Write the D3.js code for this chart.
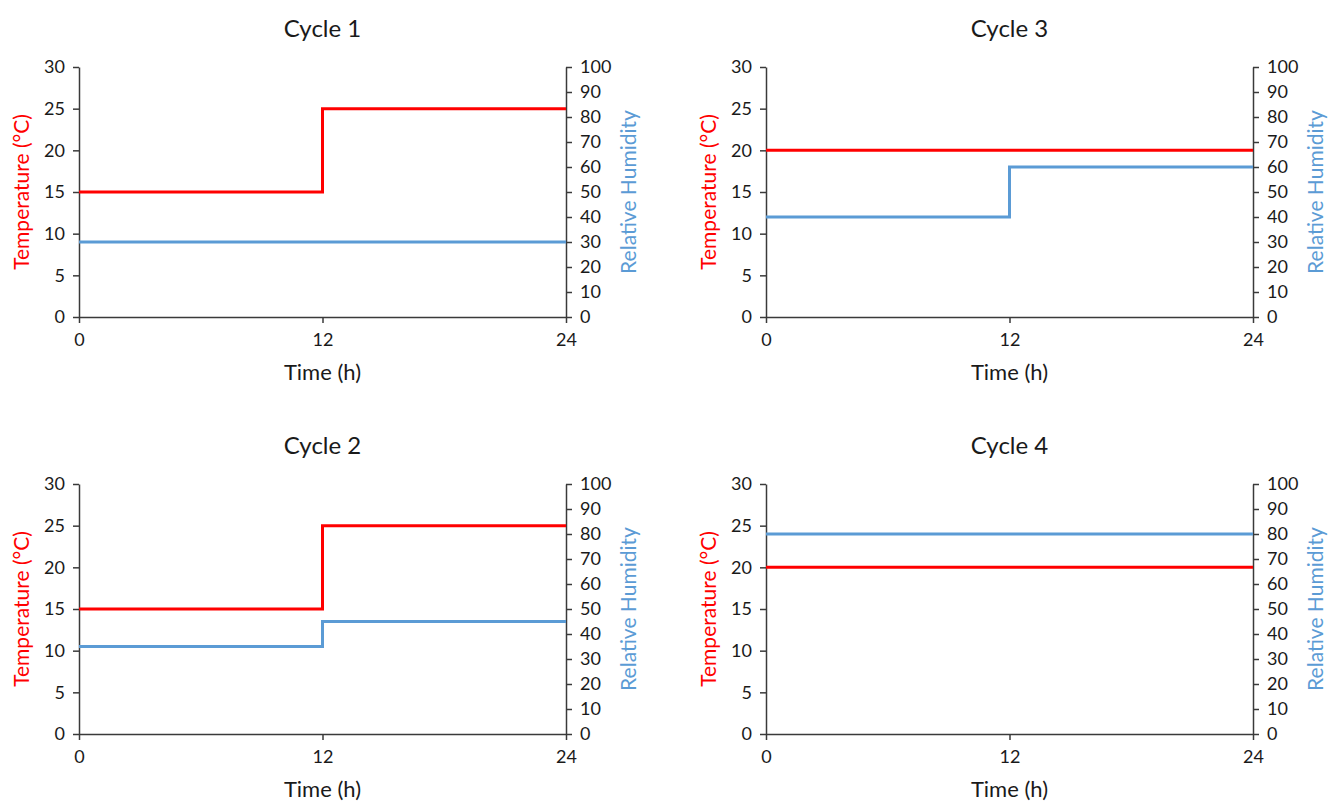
<!DOCTYPE html>
<html>
<head>
<meta charset="utf-8">
<script src="https://cdn.jsdelivr.net/npm/d3@7"></script>
<style>
  body { margin: 0; background: #fff; }
  svg text { font-family: Lato, "Open Sans", sans-serif; fill: #1a1a1a; }
  .axis path, .axis line { stroke: #3a3a3a; stroke-width: 1.5; }
  .axis text { font-size: 18px; }
</style>
</head>
<body>
<div id="chart"></div>
<script>
// data, one entry per panel
const titles = ['Cycle 1', 'Cycle 3', 'Cycle 2', 'Cycle 4'];
const hours = [0, 12, 24];
const temps = [
  [15, 25, 25],
  [20, 20, 20],
  [15, 25, 25],
  [20, 20, 20]
];
const humidity = [
  [30, 30, 30],
  [40, 60, 60],
  [35, 45, 45],
  [80, 80, 80]
];
const tempTicks = [0, 5, 10, 15, 20, 25, 30];
const rhTicks = [0, 10, 20, 30, 40, 50, 60, 70, 80, 90, 100];
const timeTicks = [0, 12, 24];

const width = 1330, height = 803;
const red = '#ff0000', blue = '#5b9bd5';

const svg = d3.select('#chart').append('svg')
  .attr('width', width).attr('height', height);

// panel boxes: left, top
const cols = [79, 766];
const rows = [67, 484];
const plotW = 487, plotH = 250;

titles.forEach((title, i) => {
  const left = cols[i % 2], top = rows[Math.floor(i / 2)];
  const g = svg.append('g').attr('transform', 'translate(' + left + ',' + top + ')');

  const x = d3.scaleLinear().domain([0, 24]).range([0, plotW]);
  const yT = d3.scaleLinear().domain([0, 30]).range([plotH, 0]);
  const yH = d3.scaleLinear().domain([0, 100]).range([plotH, 0]);

  g.append('g').attr('class', 'axis')
    .attr('transform', 'translate(0,' + plotH + ')')
    .call(d3.axisBottom(x).tickValues(timeTicks).tickSize(6).tickSizeOuter(0).tickPadding(10));
  g.append('g').attr('class', 'axis')
    .call(d3.axisLeft(yT).tickValues(tempTicks).tickSize(6).tickSizeOuter(0).tickPadding(8));
  g.append('g').attr('class', 'axis')
    .attr('transform', 'translate(' + plotW + ',0)')
    .call(d3.axisRight(yH).tickValues(rhTicks).tickSize(6).tickSizeOuter(0).tickPadding(8));

  const lineT = d3.line().x((d, j) => x(hours[j])).y(d => yT(d)).curve(d3.curveStepAfter);
  const lineH = d3.line().x((d, j) => x(hours[j])).y(d => yH(d)).curve(d3.curveStepAfter);

  g.append('path').datum(temps[i])
    .attr('d', lineT).attr('fill', 'none').attr('stroke', red).attr('stroke-width', 3);
  g.append('path').datum(humidity[i])
    .attr('d', lineH).attr('fill', 'none').attr('stroke', blue).attr('stroke-width', 3);

  g.append('text')
    .attr('x', plotW / 2).attr('y', -30)
    .attr('text-anchor', 'middle').attr('font-size', 24)
    .text(title);

  g.append('text')
    .attr('x', plotW / 2).attr('y', plotH + 63)
    .attr('text-anchor', 'middle').attr('font-size', 22)
    .text('Time (h)');

  g.append('text')
    .attr('transform', 'translate(-50,' + (plotH / 2) + ') rotate(-90)')
    .attr('text-anchor', 'middle').attr('font-size', 21)
    .style('fill', red)
    .text('Temperature (°C)');

  g.append('text')
    .attr('transform', 'translate(' + (plotW + 70) + ',' + (plotH / 2) + ') rotate(-90)')
    .attr('text-anchor', 'middle').attr('font-size', 21)
    .style('fill', blue)
    .text('Relative Humidity');
});
</script>
</body>
</html>
